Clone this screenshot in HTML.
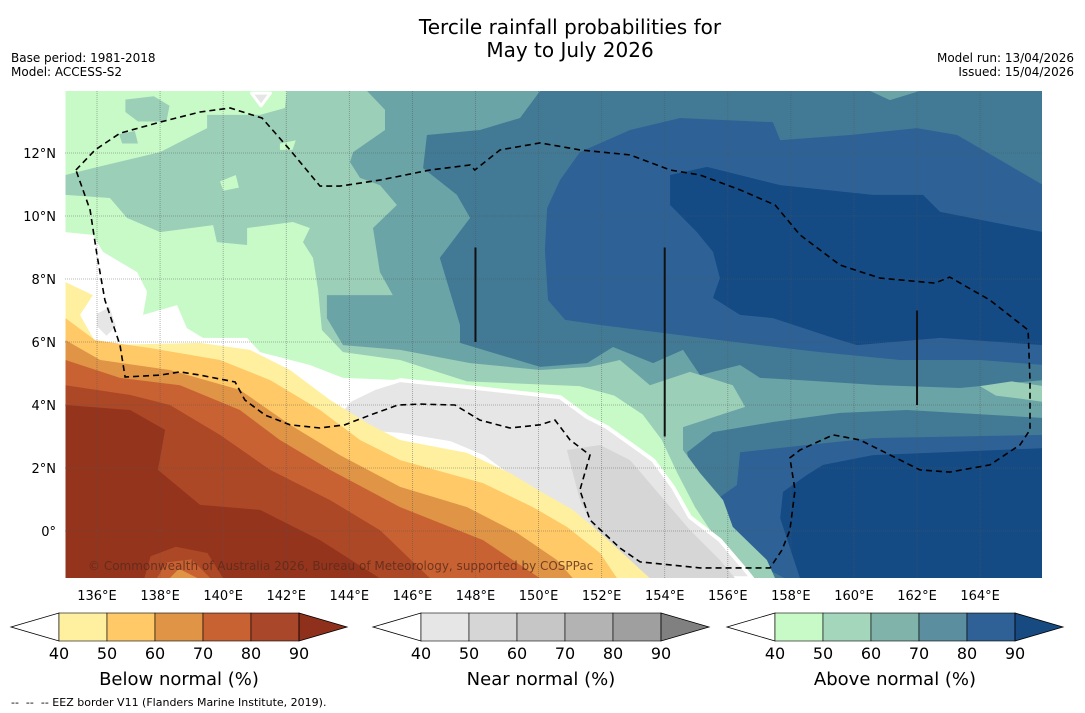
<!DOCTYPE html>
<html><head><meta charset="utf-8">
<style>
html,body{margin:0;padding:0;background:#fff;}
body{width:1085px;height:713px;overflow:hidden;font-family:"DejaVu Sans","Liberation Sans",sans-serif;}
svg{display:block;}
</style></head>
<body>
<svg id="fig" width="1085" height="713" viewBox="0 0 1085 713" xmlns="http://www.w3.org/2000/svg" font-family="DejaVu Sans, Liberation Sans, sans-serif">
<text x="570" y="34" font-size="20" text-anchor="middle" fill="#000">Tercile rainfall probabilities for</text>
<text x="570" y="57" font-size="20" text-anchor="middle" fill="#000">May to July 2026</text>
<text x="11" y="62" font-size="12">Base period: 1981-2018</text>
<text x="11" y="76" font-size="12">Model: ACCESS-S2</text>
<text x="1074" y="62" font-size="12" text-anchor="end">Model run: 13/04/2026</text>
<text x="1074" y="76" font-size="12" text-anchor="end">Issued: 15/04/2026</text>
<defs><clipPath id="mapclip"><rect x="65" y="91" width="977" height="487"/></clipPath></defs>
<g id="map" clip-path="url(#mapclip)"></g>
<g id="axes"></g>
<g id="bars"></g>
<text x="11" y="706" font-size="11" xml:space="preserve">--  --  -- EEZ border V11 (Flanders Marine Institute, 2019).</text>
</svg>
<script>
// ---- geographic data (lon, lat) ----
const lonTicks=[136,138,140,142,144,146,148,150,152,154,156,158,160,162,164];
const latTicks=[0,2,4,6,8,10,12];
const base60=[[135,14],[166,14],[166,-1.5],[135,-1.5]];
const north70=[[150.05,13.97],[160.51,13.97],[161.14,13.68],[162.09,13.97],[166,13.97],[166,4.79],[163.36,4.54],[160.83,4.63],[158.29,4.79],[157.02,4.86],[156.39,5.27],[155.12,4.95],[154.58,5.75],[153.63,5.33],[152.36,5.84],[151.54,5.33],[150.05,5.21],[147.51,5.97],[147.51,6.54],[146.87,8.67],[147.83,9.94],[147.41,10.67],[146.34,11.52],[146.46,12.57],[148.14,12.73],[149.41,13.11]];
const south70=[[166,3.59],[161.68,3.84],[159.56,3.75],[157.43,3.46],[155.53,3.14],[154.71,2.5],[154.9,1.46],[154.71,0.6],[155.02,-0.44],[156.39,-1.5],[166,-1.5]];
const north80=[[150.27,10.25],[150.68,11.14],[151.31,12.03],[152.9,12.73],[154.49,13.11],[155.75,13.05],[157.43,12.98],[157.66,12.41],[159.87,12.57],[162.0,12.79],[163.27,12.57],[164.63,11.78],[166,10.98],[166,5.27],[164,5.43],[161.46,5.43],[158.92,5.68],[157.02,5.9],[155.75,6.06],[154.48,6.22],[153.2,6.38],[151.95,6.54],[150.84,6.7],[150.3,7.33],[150.2,8.92]];
const north90=[[154.17,11.3],[155.34,11.56],[157.66,10.98],[160.6,10.67],[162.19,10.67],[162.73,10.13],[166,9.49],[166,5.9],[162.73,6.13],[160.1,5.9],[159.34,6.13],[157.43,6.76],[156.39,6.86],[155.53,7.4],[155.75,8.03],[155.53,8.86],[155.02,9.49],[154.17,10.35]];
const south80=[[156.39,2.5],[158.51,2.73],[160.6,2.95],[166,3.05],[166,-1.5],[157.81,-1.5],[156.55,-0.86],[155.75,-0.13],[155.53,0.92],[156.29,1.46]];
const south90=[[159.02,2.1],[160.6,2.41],[166,2.63],[166,-1.5],[158.29,-1.5],[157.66,0.41],[157.75,1.24],[158.51,1.78]];
const green50=[[135,14],[144.56,13.97],[145.13,13.37],[145.13,12.73],[144.12,12.03],[144.02,11.71],[144.34,11.21],[144.97,10.98],[145.51,10.35],[144.75,9.62],[144.97,8.22],[145.38,7.49],[143.29,7.49],[143.29,6.76],[143.8,5.9],[145.61,5.75],[147.83,5.33],[150.05,5.11],[151.63,5.21],[152.58,5.43],[153.53,4.63],[154.8,5.05],[156.16,4.63],[156.55,3.94],[154.58,3.3],[154.58,2.57],[155.12,1.84],[155.85,0.98],[156.16,0.13],[157.24,-0.92],[157.5,-1.5],[135,-1.5]];
const green50Right=[[164,4.6],[165,4.75],[166,4.6],[166,4.1],[165.3,4.2],[164.5,4.3]];
const green40=[[135,10.67],[136.41,10.57],[136.95,9.94],[138,9.49],[139.68,9.71],[139.8,9.17],[140.76,9.08],[140.76,9.62],[142.21,9.81],[142.75,9.62],[142.53,9.17],[142.85,8.67],[143.01,7.65],[143.13,6.38],[143.8,5.68],[145.61,5.43],[147.73,4.75],[151.3,4.6],[152.4,4.3],[153.3,3.7],[153.9,2.9],[154.4,1.84],[154.96,0.76],[155.5,-0.06],[156.07,-0.92],[156.45,-1.5],[135,-1.5]];
const green40Top=[[135,14],[142.02,14],[141.96,13.43],[141.17,13.21],[139.49,13.21],[139.49,12.79],[138,12.03],[135.87,11.52],[135,11.3]];
const green50Patch1=[[136.9,13.7],[137.8,13.8],[138.3,13.5],[138.2,13.0],[137.3,13.0],[136.9,13.3]];
const green50Patch2=[[136.7,12.6],[137.2,12.7],[137.3,12.3],[136.8,12.3]];
const green40Hole1=[[139.9,11.1],[140.4,11.3],[140.5,10.9],[140.0,10.8]];
const green40Hole2=[[141.8,12.3],[142.3,12.4],[142.2,12.1],[141.8,12.1]];
const white40=[[135,9.49],[135.87,9.4],[136.19,8.86],[137.27,8.22],[137.59,7.59],[137.46,6.86],[138.54,7.17],[138.85,6.44],[139.36,6.13],[140.76,6.13],[141.17,5.68],[142.75,5.27],[143.8,4.86],[145.61,4.79],[147.73,4.57],[150.68,4.25],[151.54,3.62],[152.17,3.3],[152.99,2.57],[153.85,1.62],[154.39,0.76],[154.9,-0.06],[155.53,-1.02],[155.75,-1.5],[135,-1.5]];
const grey40=[[143.55,3.59],[144.02,4.16],[144.81,4.54],[145.61,4.79],[147.73,4.57],[150.68,4.25],[151.54,3.62],[152.17,3.3],[153.63,2.25],[154.26,1.4],[154.8,0.44],[155.75,-0.29],[156.48,-1.14],[156.77,-1.5],[151.54,-1.5],[150.9,-0.06],[150.05,0.98],[149.09,1.71],[148.24,2.35],[147.19,2.79],[145.61,3.05],[144.34,3.14]];
const grey50=[[150.9,2.57],[151.95,2.73],[152.9,2.25],[153.85,1.14],[154.8,0.03],[155.75,-0.92],[156.23,-1.5],[153.22,-1.5],[151.95,-0.29],[151.31,0.98],[151.06,1.94]];
const greyPatchWest=[[136.0,6.9],[136.4,7.1],[136.6,6.5],[136.3,6.2],[136.0,6.5]];
const greyDiamond=[[140.9,13.9],[141.5,13.9],[141.2,13.5]];
const below40=[[135,7.9],[135.87,7.49],[135.46,6.86],[136,5.9],[139.27,5.97],[140.85,5.75],[142.12,5.11],[143.39,4.16],[144.66,3.37],[145.61,2.89],[147.73,2.48],[149.09,1.84],[150.14,1.21],[151.09,0.67],[151.95,-0.06],[152.8,-0.83],[153.53,-1.5],[135,-1.5]];
const below50=[[135,6.76],[135.94,6.06],[137.68,5.81],[139.9,5.43],[141.49,4.79],[143.07,3.84],[144.34,2.89],[145.61,2.25],[148.24,1.52],[149.82,0.76],[150.9,0.13],[151.95,-0.7],[152.49,-1.5],[135,-1.5]];
const below60=[[135,6.06],[136.1,5.43],[138.31,5.11],[140.53,4.48],[142.12,3.37],[143.7,2.41],[145.61,1.4],[147.73,0.76],[149.32,-0.06],[150.58,-0.92],[151.09,-1.5],[135,-1.5]];
const below70=[[135,5.43],[136.73,4.86],[138.63,4.63],[140.53,3.84],[141.8,2.89],[143.39,1.94],[145.61,0.76],[148.24,-0.29],[150.05,-1.5],[135,-1.5]];
const below80=[[135,4.63],[137.05,4.32],[138.31,4],[139.9,3.05],[141.49,1.94],[143.39,0.98],[144.97,0.03],[146.56,-1.5],[135,-1.5]];
const below90=[[135,4],[137.05,3.84],[138.16,3.21],[137.93,1.94],[139.27,0.83],[141.17,0.67],[143.07,-0.29],[144.97,-1.5],[135,-1.5]];
const bump80=[[137.5,-1.5],[137.7,-0.8],[138.5,-0.5],[139.5,-0.7],[140,-1.5]];
const bump70=[[137.9,-1.5],[138.2,-1.0],[139.0,-0.9],[139.6,-1.5]];
const bump60=[[138.3,-1.5],[138.6,-1.2],[139.2,-1.5]];
const eezLine=[[135.33,11.46],[135.94,12.10],[136.73,12.63],[138.0,12.98],[139.27,13.3],[140.22,13.43],[141.23,13.11],[142.12,12.1],[143.07,10.95],[143.7,10.95],[144.97,11.14],[146.56,11.46],[147.83,11.62],[147.98,11.46],[148.78,12.1],[150.05,12.32],[151.31,12.1],[152.9,11.94],[154.17,11.46],[155.12,11.3],[156.39,10.83],[157.5,10.35],[158.29,9.4],[159.56,8.44],[160.83,8.03],[162.57,7.87],[163.04,8.06],[164.31,7.33],[165.52,6.38],[165.58,4.79],[165.58,3.21],[165.26,2.73],[164.31,2.1],[163.04,1.87],[162.09,1.94],[160.83,2.57],[160.19,2.89],[159.34,3.05],[158.29,2.57],[157.97,2.32],[158.13,1.3],[157.97,0.03],[157.72,-0.6],[157.34,-1.17],[155.12,-1.17],[153.22,-0.98],[152.58,-0.54],[151.63,0.35],[151.31,1.3],[151.63,2.41],[151.0,2.89],[150.52,3.52],[150.05,3.37],[149.09,3.27],[148.14,3.52],[147.35,4.0],[146.24,4.03],[145.54,4.0],[144.66,3.68],[143.86,3.37],[143.07,3.27],[142.12,3.37],[141.33,3.68],[140.69,4.16],[140.38,4.73],[139.27,4.95],[138.63,5.05],[138.0,4.95],[136.89,4.89],[136.73,5.9],[136.25,7.33],[136.0,8.76],[135.78,10.19],[135.33,11.46]];
const meridianSegs=[[148,9,6],[154,9,3],[162,7,4]];
// colorbar data
const barTicks=[40,50,60,70,80,90];
const belowColors=['#fff0a0','#fec966','#df9446','#c96232','#a9472a','#8f301c'];
const nearColors=['#e6e6e6','#d6d6d6','#c6c6c6','#b3b3b3','#9f9f9f','#808080'];
const aboveColors=['#c8fac8','#a4d6bb','#80b3a9','#5b8f9f','#2f6096','#164a80'];
const barTitles=['Below normal (%)','Near normal (%)','Above normal (%)'];

const NS='http://www.w3.org/2000/svg';
const X=lon=>97+(lon-136)*31.54;
const Y=lat=>531-lat*31.5;
const pts=a=>a.map(p=>X(p[0]).toFixed(1)+','+Y(p[1]).toFixed(1)).join(' ');
const map=document.getElementById('map');
function poly(data,fill,name,stroke,sw){
  const el=document.createElementNS(NS,'polygon');
  el.setAttribute('points',pts(data));
  el.setAttribute('fill',fill);
  if(stroke){el.setAttribute('stroke',stroke);el.setAttribute('stroke-width',sw);el.setAttribute('stroke-linejoin','round');}
  
  
  map.appendChild(el);
}
poly(base60,'#6ba4a6','above-60-region');
poly(north70,'#427a96','above-70-north');
poly(south70,'#427a96','above-70-south');
poly(north80,'#2e6296','above-80-north');
poly(north90,'#144b85','above-90-north');
poly(south80,'#2e6296','above-80-south');
poly(south90,'#144b85','above-90-south');
poly(green50,'#9bcfb8','above-50-region');
poly(green50Right,'#9bcfb8','above-50-patch-east');
poly(green40,'#c8fac8','above-40-region');
poly(green40Top,'#c8fac8','above-40-northwest');
poly(green50Patch1,'#9bcfb8','above-50-patch');
poly(green50Patch2,'#9bcfb8','above-50-patch');
poly(green40Hole1,'#c8fac8','above-40-patch');
poly(green40Hole2,'#c8fac8','above-40-patch');
poly(white40,'#ffffff','no-signal-region');
poly(grey40,'#e6e6e6','near-40-region','#ffffff',4);
poly(grey50,'#d6d6d6','near-50-region');
poly(greyPatchWest,'#e6e6e6','near-40-patch-west');
poly(greyDiamond,'#e6e6e6','near-40-patch-north','#ffffff',3);
poly(below40,'#fff0a0','below-40-region');
poly(below50,'#fec966','below-50-region');
poly(below60,'#df9446','below-60-region');
poly(below70,'#c96232','below-70-region');
poly(below80,'#ad4826','below-80-region');
poly(below90,'#94341d','below-90-region');
poly(bump80,'#ad4826','below-80-patch');
poly(bump70,'#c96232','below-70-patch');
poly(bump60,'#df9446','below-60-patch');
// gridlines
lonTicks.forEach(l=>{
  const g=document.createElementNS(NS,'line');
  g.setAttribute('x1',X(l));g.setAttribute('x2',X(l));g.setAttribute('y1',91);g.setAttribute('y2',578);
  g.setAttribute('stroke','#555');g.setAttribute('stroke-width','0.8');g.setAttribute('stroke-dasharray','1 1');g.setAttribute('opacity','0.55');
  
  
  map.appendChild(g);
});
latTicks.forEach(l=>{
  const g=document.createElementNS(NS,'line');
  g.setAttribute('x1',65);g.setAttribute('x2',1042);g.setAttribute('y1',Y(l));g.setAttribute('y2',Y(l));
  g.setAttribute('stroke','#555');g.setAttribute('stroke-width','0.8');g.setAttribute('stroke-dasharray','1 1');g.setAttribute('opacity','0.55');
  
  
  map.appendChild(g);
});
// meridian segments
meridianSegs.forEach(s=>{
  const g=document.createElementNS(NS,'line');
  g.setAttribute('x1',X(s[0]));g.setAttribute('x2',X(s[0]));g.setAttribute('y1',Y(s[1]));g.setAttribute('y2',Y(s[2]));
  g.setAttribute('stroke','#111');g.setAttribute('stroke-width','2');
  
  
  map.appendChild(g);
});
// EEZ
const eez=document.createElementNS(NS,'polyline');
eez.setAttribute('points',pts(eezLine));
eez.setAttribute('fill','none');eez.setAttribute('stroke','#000');eez.setAttribute('stroke-width','1.6');eez.setAttribute('stroke-dasharray','6 4');


map.appendChild(eez);
// copyright
const cp=document.createElementNS(NS,'text');
cp.setAttribute('x',88);cp.setAttribute('y',570);cp.setAttribute('font-size','12');cp.setAttribute('fill','#5a2a1a');cp.setAttribute('opacity','0.8');
cp.textContent='© Commonwealth of Australia 2026, Bureau of Meteorology, supported by COSPPac';


map.appendChild(cp);
// axes labels
const axes=document.getElementById('axes');
lonTicks.forEach(l=>{
  const t=document.createElementNS(NS,'text');
  t.setAttribute('x',X(l));t.setAttribute('y',600);t.setAttribute('font-size','13');t.setAttribute('text-anchor','middle');
  t.textContent=l+'°E';
  
  
  axes.appendChild(t);
});
latTicks.forEach(l=>{
  const t=document.createElementNS(NS,'text');
  t.setAttribute('x',56);t.setAttribute('y',Y(l)+5);t.setAttribute('font-size','13');t.setAttribute('text-anchor','end');
  t.textContent=l===0?'0°':l+'°N';
  
  
  axes.appendChild(t);
});
// colorbars
const bars=document.getElementById('bars');
const barLefts=[11,373,727];
[belowColors,nearColors,aboveColors].forEach((cols,bi)=>{
  const x0=barLefts[bi], bx=x0+48, bw=48, y0=613, h=28;
  const g=document.createElementNS(NS,'g');
  
  
  bars.appendChild(g);
  const lt=document.createElementNS(NS,'polygon');
  lt.setAttribute('points',`${x0},${y0+h/2} ${bx},${y0} ${bx},${y0+h}`);
  lt.setAttribute('fill','#fff');lt.setAttribute('stroke','#000');lt.setAttribute('stroke-width','0.8');
  
  
  g.appendChild(lt);
  for(let i=0;i<5;i++){
    const r=document.createElementNS(NS,'rect');
    r.setAttribute('x',bx+i*bw);r.setAttribute('y',y0);r.setAttribute('width',bw);r.setAttribute('height',h);
    r.setAttribute('fill',cols[i]);r.setAttribute('stroke','#000');r.setAttribute('stroke-width','0.6');
    
    
    g.appendChild(r);
  }
  const rt=document.createElementNS(NS,'polygon');
  const ex=bx+5*bw;
  rt.setAttribute('points',`${ex},${y0} ${ex+48},${y0+h/2} ${ex},${y0+h}`);
  rt.setAttribute('fill',cols[5]);rt.setAttribute('stroke','#000');rt.setAttribute('stroke-width','0.8');
  
  
  g.appendChild(rt);
  barTicks.forEach((v,i)=>{
    const t=document.createElementNS(NS,'text');
    t.setAttribute('x',bx+i*bw);t.setAttribute('y',659);t.setAttribute('font-size','16');t.setAttribute('text-anchor','middle');
    t.textContent=v;
    
    
    g.appendChild(t);
  });
  const tt=document.createElementNS(NS,'text');
  tt.setAttribute('x',bx+2.5*bw);tt.setAttribute('y',685);tt.setAttribute('font-size','18');tt.setAttribute('text-anchor','middle');
  tt.textContent=barTitles[bi];
  
  
  g.appendChild(tt);
});
</script>
</body></html>
